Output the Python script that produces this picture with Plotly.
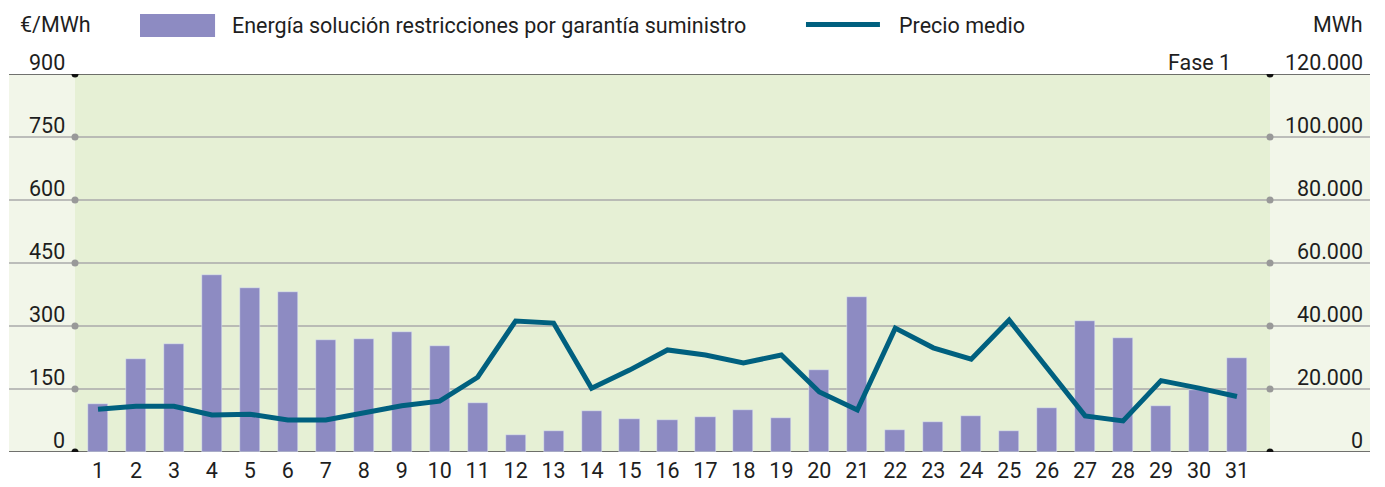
import plotly.graph_objects as go

days = list(range(1, 32))
energia_mwh = [15200, 29500, 34300, 56200, 52100, 50800, 35600, 35900, 38100, 33700,
               15600, 5400, 6700, 13000, 10500, 10200, 11100, 13300, 10800, 26000,
               49200, 7000, 9500, 11400, 6700, 14000, 41600, 36200, 14600, 19700, 29800]
precio_medio = [102, 109, 109, 88, 90, 76, 76, 94, 110, 121,
                178, 312, 307, 152, 195, 243, 231, 212, 231, 143,
                100, 295, 248, 221, 314, 200, 86, 74, 170, 152, 132]

left_ticks = [0, 150, 300, 450, 600, 750, 900]
right_ticks = [0, 20000, 40000, 60000, 80000, 100000, 120000]
right_labels = ["0", "20.000", "40.000", "60.000", "80.000", "100.000", "120.000"]

legend_bar = "Energía solución restricciones por garantía suministro"
legend_line = "Precio medio"

FONT = "Roboto, sans-serif"
FS = 21.5
TXT = "#1e1e1e"
BAR_C = "#8d8bc2"
LINE_C = "#00607f"
BG_MAIN = "#e6f0d5"
BG_SIDE = "#f2f6e9"

H = 487
PLOT_H = 378
T = 74

def py(px_from_top):
    return 1 + (T - px_from_top) / PLOT_H

fig = go.Figure()
fig.add_trace(go.Bar(x=days, y=energia_mwh, marker_color=BAR_C, width=0.53,
                     name=legend_bar, yaxis="y", showlegend=False))
fig.add_trace(go.Scatter(x=days, y=precio_medio, mode="lines",
                         line=dict(color=LINE_C, width=5), name=legend_line,
                         yaxis="y2", showlegend=False))

XL, XR = -0.0552, 1.0837
shapes = []
shapes.append(dict(type="rect", xref="paper", yref="paper", x0=XL, x1=0, y0=0, y1=1,
                   fillcolor=BG_SIDE, line_width=0, layer="below"))
shapes.append(dict(type="rect", xref="paper", yref="paper", x0=1, x1=XR, y0=0, y1=1,
                   fillcolor=BG_SIDE, line_width=0, layer="below"))
for v in right_ticks:
    edge = v in (0, 120000)
    shapes.append(dict(type="line", xref="paper", yref="y", x0=XL, x1=XR, y0=v, y1=v,
                       line=dict(color="#444444" if edge else "#aaaaaa", width=1.5),
                       layer="below"))
    for xp in (0, 1):
        shapes.append(dict(type="circle", xref="paper", yref="y", xsizemode="pixel",
                           ysizemode="pixel", xanchor=xp, yanchor=v,
                           x0=-3.5, x1=3.5, y0=-3.5, y1=3.5,
                           fillcolor="#111111" if edge else "#999999", line_width=0))

shapes.append(dict(type="rect", xref="paper", yref="paper", x0=0.0544, x1=0.1172,
                   y0=py(37), y1=py(14), fillcolor=BAR_C, line_width=0))
shapes.append(dict(type="line", xref="paper", yref="paper", x0=0.6117, x1=0.6736,
                   y0=py(24.5), y1=py(24.5), line=dict(color=LINE_C, width=5)))

f = dict(size=FS, color=TXT, family=FONT)
ann = []
for v in left_ticks:
    ann.append(dict(x=-0.0067, y=v, xref="paper", yref="y2", text=str(v), showarrow=False,
                    xanchor="right", yanchor="middle", yshift=12, font=f))
for v, t in zip(right_ticks, right_labels):
    ann.append(dict(x=1.0795, y=v, xref="paper", yref="y", text=t, showarrow=False,
                    xanchor="right", yanchor="middle", yshift=12, font=f))
ann.append(dict(x=-0.048, y=py(24.5), xref="paper", yref="paper", text="€/MWh", showarrow=False,
                xanchor="left", yanchor="middle", font=f))
ann.append(dict(x=1.0795, y=py(24.5), xref="paper", yref="paper", text="MWh", showarrow=False,
                xanchor="right", yanchor="middle", font=f))
ann.append(dict(x=0.1297, y=py(25), xref="paper", yref="paper", text=legend_bar, showarrow=False,
                xanchor="left", yanchor="middle", font=f))
ann.append(dict(x=0.6879, y=py(25), xref="paper", yref="paper", text=legend_line, showarrow=False,
                xanchor="left", yanchor="middle", font=f))
ann.append(dict(x=0.969, y=py(62), xref="paper", yref="paper", text="Fase 1", showarrow=False,
                xanchor="right", yanchor="middle", font=f))

fig.update_layout(
    width=1385, height=H,
    margin=dict(l=75, r=115, t=T, b=H - T - PLOT_H),
    paper_bgcolor="white", plot_bgcolor=BG_MAIN,
    shapes=shapes, annotations=ann,
    xaxis=dict(range=[0.394, 31.87], tickvals=days, ticktext=[str(d) for d in days],
               showgrid=False, zeroline=False, showline=False, ticks="",
               tickfont=f, automargin=False, ticklabelstandoff=3),
    yaxis=dict(range=[0, 120000], showgrid=False, zeroline=False, showticklabels=False,
               showline=False, automargin=False),
    yaxis2=dict(range=[0, 900], overlaying="y", side="right", showgrid=False,
                zeroline=False, showticklabels=False, showline=False, automargin=False),
    bargap=0,
)

fig.write_html("out.html", config={"responsive": False, "displayModeBar": False},
               post_script="document.body.style.margin='0';document.body.style.overflow='hidden';")
